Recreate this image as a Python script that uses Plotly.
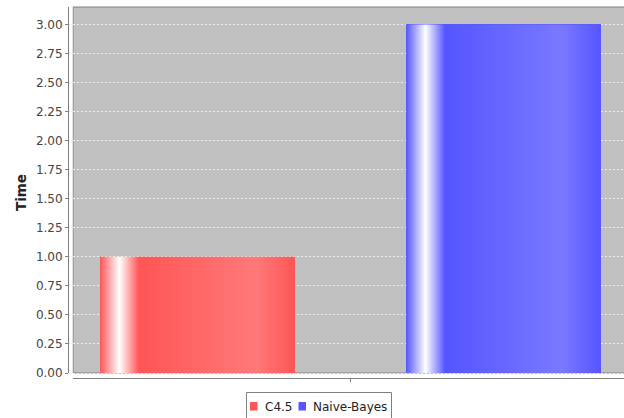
import plotly.graph_objects as go

# ---- data ----
series_names = ["C4.5", "Naive-Bayes"]
series_values = [1.0, 3.0]
series_base_colors = ["#ff5555", "#5555ff"]
series_light_colors = ["#ff7979", "#7979ff"]
y_tick_values = [0, 0.25, 0.5, 0.75, 1.0, 1.25, 1.5, 1.75, 2.0, 2.25, 2.5, 2.75, 3.0]
y_title = "Time"

# ---- layout geometry (pixels) ----
W, H = 624, 418
L, R, T, B = 69, 0, 7, 40
pw, ph = W - L - R, H - T - B

def px_x(p):
    return (p - L) / pw

def px_y(p):
    return (H - B - p) / ph

bar_width = 0.637
x_positions = [0, 1]
y_per_px = 1 / 116.2
y_range = [-5 * y_per_px, (373 - 7) * y_per_px]
x_range = [(69 - 197.5) / 306, (624 - 197.5) / 306]

fig = go.Figure()

for name, val, xp, c0, c1 in zip(series_names, series_values, x_positions,
                                  series_base_colors, series_light_colors):
    fig.add_trace(go.Bar(x=[xp], y=[val], width=bar_width, name=name,
                         marker=dict(color=c0, line=dict(width=0)),
                         showlegend=False, hoverinfo="name+y"))
    x0, x1 = xp - bar_width / 2, xp + bar_width / 2
    fig.add_trace(go.Scatter(
        x=[x0, x1, x1, x0, x0], y=[0, 0, val, val, 0],
        mode="lines", line=dict(width=0), fill="toself",
        fillgradient=dict(type="horizontal",
                          colorscale=[[0, c0], [0.1, "#ffffff"], [0.2, c0],
                                      [0.8, c1], [1, c0]]),
        showlegend=False, hoverinfo="skip"))

shapes = [
    # plot background (gray) with outline
    dict(type="rect", xref="paper", yref="paper",
         x0=px_x(73), x1=px_x(640), y0=px_y(373), y1=px_y(7),
         fillcolor="#c0c0c0", line=dict(color="#808080", width=1), layer="below"),
    # white strip hiding gridlines left of the plot
    dict(type="rect", xref="paper", yref="paper",
         x0=px_x(69), x1=px_x(72.5), y0=px_y(378), y1=px_y(7),
         fillcolor="white", line=dict(width=0), layer="between"),
    # y axis line
    dict(type="line", xref="paper", yref="paper",
         x0=px_x(68.5), x1=px_x(68.5), y0=px_y(373), y1=px_y(7),
         line=dict(color="#808080", width=1)),
    # x axis line
    dict(type="line", xref="paper", yref="paper",
         x0=px_x(73), x1=px_x(640), y0=px_y(378.5), y1=px_y(378.5),
         line=dict(color="#808080", width=1)),
    # legend box
    dict(type="rect", xref="paper", yref="paper",
         x0=px_x(246.5), x1=px_x(391.5), y0=px_y(430), y1=px_y(392.5),
         fillcolor="white", line=dict(color="#808080", width=1)),
]

annotations = []
legend_sq_x = [250, 298.5]
legend_txt_x = [262.5, 311]
for name, c0, sx, tx in zip(series_names, series_base_colors, legend_sq_x, legend_txt_x):
    shapes.append(dict(type="rect", xref="paper", yref="paper",
                       x0=px_x(sx), x1=px_x(sx + 7.5), y0=px_y(410.5), y1=px_y(402),
                       fillcolor=c0, line=dict(width=0)))
    annotations.append(dict(text=name, xref="paper", yref="paper",
                            x=px_x(tx), y=px_y(406.5), xanchor="left", yanchor="middle",
                            showarrow=False,
                            font=dict(family="DejaVu Sans", size=12, color="#222222")))

fig.update_layout(
    width=W, height=H,
    margin=dict(l=L, r=R, t=T, b=B, pad=0),
    paper_bgcolor="white", plot_bgcolor="white",
    showlegend=False,
    bargap=0,
    shapes=shapes, annotations=annotations,
    xaxis=dict(range=x_range, showgrid=False, zeroline=False, showline=False,
               tickvals=[0.5], ticktext=[""], ticks="outside", ticklen=3,
               tickcolor="#808080", fixedrange=True),
    yaxis=dict(range=y_range, tickvals=y_tick_values, tickformat=".2f",
               showgrid=True, gridcolor="#ececec", griddash="2px,2px", gridwidth=1,
               zeroline=False, showline=False,
               ticks="outside", ticklen=3, tickcolor="#808080",
               tickfont=dict(family="DejaVu Sans", size=12, color="#444444"),
               title=dict(text=y_title, standoff=6,
                          font=dict(family="DejaVu Sans", size=13.5, color="#222222",
                                    weight="bold")),
               fixedrange=True),
)

fig.write_html("out.html", config={"displayModeBar": False, "responsive": False})
